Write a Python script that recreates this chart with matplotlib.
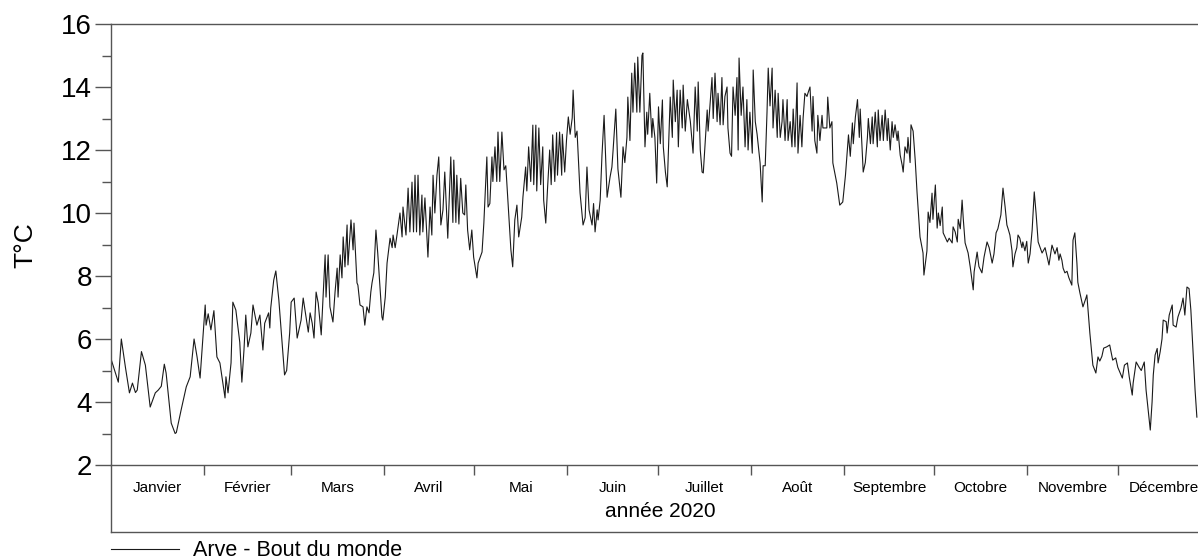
import numpy as np
import matplotlib
matplotlib.use("Agg")
import matplotlib.pyplot as plt

plt.rcParams["font.family"] = ["Liberation Sans", "DejaVu Sans"]

# Arve water temperature, 2020 (day of year, degC)
jan_feb_days = [0.3, 2.6, 3.6, 5.0, 6.3, 7.3, 8.3, 8.9, 10.3, 11.6, 13.2, 14.9, 15.9, 16.9, 17.9, 18.5,
                20.2, 21.5, 21.9, 23.5, 25.2, 26.5, 27.8, 28.8, 29.8, 31.5, 31.8, 32.5, 33.4, 34.4, 35.4,
                36.4, 37.4, 38.1, 38.4, 39.1, 40.1, 40.7, 41.7, 43.0, 43.7, 44.4, 45.0, 45.7, 46.7, 47.4,
                48.7, 49.7, 50.7, 51.3, 52.6, 53.0, 53.3, 54.3, 55.0, 56.0, 57.9, 58.6, 59.6]
jan_feb_temp = [5.33, 4.63, 6.0, 5.08, 4.29, 4.6, 4.3, 4.38, 5.6, 5.17, 3.84, 4.29, 4.38, 4.5, 5.2, 4.92,
                3.33, 3.0, 3.03, 3.75, 4.48, 4.8, 6.0, 5.43, 4.76, 7.08, 6.44, 6.8, 6.29, 6.9, 5.43,
                5.24, 4.6, 4.13, 4.8, 4.29, 5.24, 7.17, 6.92, 5.9, 4.63, 5.65, 6.76, 5.75, 6.19, 7.08,
                6.44, 6.76, 5.65, 6.5, 6.83, 6.35, 6.98, 7.87, 8.16, 7.24, 4.86, 5.0, 6.19]

mar_days = [60.1, 61.1, 62.1, 63.4, 64.1, 65.8, 66.4, 67.1, 67.7, 68.4, 69.1, 70.1, 71.4, 71.7, 72.4,
            73.0, 74.0, 74.7, 75.4, 75.7, 76.4, 77.0, 77.4, 78.0, 78.7, 79.0, 80.0, 80.7, 81.0, 82.0,
            82.3, 83.0, 84.0, 84.6, 85.3, 86.0, 86.6, 87.0, 87.6, 88.3, 88.9, 90.3, 90.6]
mar_temp = [7.17, 7.3, 6.03, 6.6, 7.3, 6.22, 6.83, 6.5, 6.03, 7.49, 7.14, 6.13, 8.67, 7.33, 8.67,
            7.02, 6.54, 7.49, 8.25, 7.33, 8.67, 7.94, 9.24, 8.29, 9.62, 8.35, 9.78, 8.83, 9.68, 7.78,
            7.71, 7.08, 7.02, 6.44, 7.02, 6.83, 7.49, 7.78, 8.1, 9.46, 8.73, 6.7, 6.6]

apr_days = [91.4, 92.0, 93.0, 93.7, 94.0, 94.7, 95.3, 96.3, 97.0, 97.3, 98.3, 99.0, 99.6, 100.3, 100.8,
            101.3, 101.8, 102.3, 102.9, 103.6, 103.9, 104.6, 105.6, 106.3, 106.9, 107.3, 107.9, 108.6,
            109.2, 109.9, 110.6, 111.2, 112.2, 113.2, 113.9, 114.2, 114.9, 115.2, 115.9, 116.5, 117.2,
            117.8, 118.2, 118.8, 119.5, 120.2, 120.8]
apr_temp = [7.33, 8.41, 9.2, 8.9, 9.3, 8.9, 9.3, 10.0, 9.24, 10.19, 9.3, 10.79, 9.4, 10.98, 9.4,
            11.2, 9.4, 11.2, 9.3, 10.57, 9.4, 10.48, 8.6, 10.19, 9.3, 11.2, 10.0, 11.2,
            11.78, 9.62, 10.1, 11.3, 9.2, 11.78, 9.7, 11.68, 9.7, 11.2, 9.65, 11.1, 10.0,
            9.94, 10.89, 9.46, 8.83, 9.46, 8.6]

may_days = [121.9, 122.3, 123.6, 124.2, 125.2, 125.6, 126.2, 126.9, 127.2, 127.9, 128.5, 128.9, 129.5,
            130.2, 130.9, 131.5, 132.2, 133.2, 133.8, 134.5, 135.2, 135.8, 136.8, 137.2, 138.1, 138.5,
            139.1, 139.8, 140.5, 140.8, 141.5, 141.8, 142.5, 143.1, 143.8, 144.1, 144.8, 145.4, 146.1,
            146.6, 147.1, 147.8, 148.4, 148.7, 149.4, 150.1, 150.3, 151.1, 151.7]
may_temp = [7.94, 8.41, 8.76, 9.68, 11.78, 10.19, 10.3, 11.78, 11.0, 12.1, 11.0, 12.57, 11.0,
            12.57, 11.37, 11.5, 10.41, 8.83, 8.29, 9.78, 10.25, 9.24, 9.87, 10.5, 11.46, 10.7,
            12.1, 11.0, 12.79, 10.9, 12.79, 10.7, 12.7, 10.9, 12.1, 10.41, 9.68, 10.8, 12.0,
            10.9, 12.48, 11.0, 12.55, 11.2, 12.57, 11.2, 12.5, 11.3, 12.32]

jun_days = [152.3, 152.9, 153.6, 153.9, 154.6, 155.2, 156.2, 157.2, 157.9, 158.5, 159.2, 160.2, 160.7,
            161.2, 161.9, 162.2, 162.9, 163.5, 164.2, 165.2, 166.2, 166.8, 167.2, 168.1, 168.8, 169.8,
            170.5, 171.1, 171.8, 172.1, 172.8, 173.4, 173.8, 174.4, 175.1, 175.4, 176.1, 176.8, 177.1,
            177.8, 178.4, 178.7, 179.4, 180.1, 180.4, 181.1, 181.7]
jun_temp = [13.05, 12.5, 13.02, 13.9, 12.4, 12.6, 10.64, 9.62, 9.85, 11.46, 10.1, 9.62, 10.3,
            9.4, 10.1, 9.78, 10.41, 11.84, 13.1, 10.5, 11.15, 11.46, 12.0, 13.3, 11.4, 10.5,
            12.1, 11.6, 12.4, 13.68, 12.3, 14.44, 13.2, 14.76, 13.2, 14.95, 13.2, 15.0, 15.08,
            12.1, 13.2, 12.5, 13.8, 12.4, 13.0, 12.4, 10.95]

jul_days = [182.3, 182.9, 183.6, 183.9, 184.6, 185.2, 186.2, 186.9, 187.2, 187.9, 188.5, 188.9, 189.5,
            190.2, 190.5, 191.2, 191.9, 192.9, 193.8, 194.5, 195.2, 195.5, 196.2, 196.8, 197.2, 198.5,
            198.8, 200.1, 200.5, 201.1, 201.8, 202.1, 202.8, 203.4, 203.8, 204.4, 205.1, 205.4, 206.1,
            206.6, 207.1, 207.8, 208.4, 208.8, 209.1, 209.8, 210.4, 211.1, 211.7, 212.1, 212.7]
jul_temp = [13.37, 12.2, 13.59, 12.1, 11.3, 10.83, 13.68, 12.4, 14.22, 12.9, 13.9, 12.1, 13.9,
            12.7, 14.06, 12.6, 13.6, 12.9, 11.9, 14.0, 12.6, 14.16, 12.0, 11.3, 11.27, 13.27,
            12.6, 14.3, 13.0, 14.44, 12.9, 13.8, 12.8, 14.3, 12.8, 13.7, 14.0, 12.7, 11.9,
            11.8, 14.0, 13.1, 14.3, 12.0, 14.92, 13.1, 14.0, 12.1, 13.6, 12.0, 13.2]

aug_days = [213.5, 213.8, 214.5, 215.1, 216.1, 216.8, 217.1, 217.8, 218.4, 218.8, 219.4, 220.1, 220.4,
            221.1, 221.8, 222.1, 222.8, 223.4, 223.7, 224.4, 225.1, 225.4, 226.1, 226.7, 227.1, 227.7,
            228.4, 228.7, 229.4, 230.0, 230.4, 231.0, 231.7, 232.0, 232.7, 233.4, 233.7, 234.3, 235.0,
            235.3, 236.0, 236.7, 237.0, 237.7, 238.3, 238.6, 239.3, 240.0, 240.3, 241.6, 242.6, 243.6]
aug_temp = [11.9, 14.54, 12.9, 12.5, 11.59, 10.35, 11.5, 11.5, 13.2, 14.6, 13.4, 14.6, 12.7,
            13.9, 12.4, 13.8, 12.4, 12.9, 13.6, 12.3, 13.6, 12.3, 12.9, 12.1, 13.3, 12.1,
            14.13, 11.9, 13.1, 12.1, 13.0, 13.8, 13.7, 13.8, 14.0, 12.6, 13.7, 12.3, 11.9,
            13.1, 12.3, 13.1, 12.7, 12.7, 12.7, 13.68, 12.7, 12.9, 11.59, 10.95, 10.25, 10.35]

sep_days = [244.5, 245.5, 246.1, 246.8, 247.1, 247.8, 248.5, 249.1, 249.4, 250.4, 251.1, 251.8, 252.1,
            252.8, 253.4, 253.7, 254.4, 255.1, 255.4, 256.0, 256.7, 257.1, 257.7, 258.4, 258.7, 259.4,
            260.0, 260.4, 261.0, 261.7, 262.0, 262.7, 263.4, 263.7, 264.3, 265.0, 265.3, 266.0, 266.3,
            267.0, 267.7, 268.3, 269.3, 270.3, 270.6, 271.6, 272.0, 272.6, 273.3, 273.6]
sep_temp = [11.2, 12.48, 11.8, 12.86, 12.2, 13.05, 13.6, 12.4, 13.3, 11.3, 11.6, 12.4, 13.0,
            12.2, 13.05, 12.2, 13.2, 12.1, 13.27, 12.3, 13.1, 12.3, 13.27, 12.3, 13.0, 12.0,
            12.9, 12.4, 12.8, 12.3, 12.6, 11.84, 11.5, 11.3, 12.1, 11.9, 12.4, 11.6, 12.8,
            12.6, 11.68, 10.67, 9.24, 8.73, 8.03, 8.8, 10.03, 9.7, 10.63, 9.8]

oct_days = [274.4, 275.0, 275.4, 276.0, 276.7, 277.0, 278.4, 279.0, 280.0, 280.3, 281.0, 281.7, 282.0,
            282.7, 283.3, 283.7, 284.3, 285.3, 286.0, 287.0, 287.3, 288.3, 288.9, 289.9, 290.6, 291.6,
            292.3, 293.3, 293.9, 294.6, 295.2, 296.2, 296.9, 297.6, 298.2, 298.6, 299.2, 299.9, 300.2,
            300.9, 301.5, 301.9, 302.5, 303.2, 303.5, 304.2, 304.8]
oct_temp = [10.89, 9.52, 10.0, 9.6, 10.19, 9.37, 9.08, 9.2, 9.05, 9.56, 9.4, 9.08, 9.8,
            9.5, 10.41, 9.8, 9.05, 8.73, 8.29, 7.56, 8.13, 8.76, 8.3, 8.1, 8.6, 9.08,
            8.9, 8.41, 8.7, 9.37, 9.5, 9.94, 10.79, 10.2, 9.62, 9.5, 9.3, 8.8, 8.29,
            8.7, 8.9, 9.3, 9.2, 8.9, 9.08, 8.8, 9.1]

nov_days = [305.3, 305.9, 306.6, 307.3, 307.9, 308.6, 309.9, 310.9, 311.6, 312.2, 313.2, 314.2, 314.9,
            315.5, 315.9, 316.5, 316.9, 317.5, 318.2, 318.8, 319.8, 320.2, 320.8, 321.5, 321.8, 322.5,
            323.5, 324.5, 324.8, 325.8, 326.8, 327.8, 328.5, 329.1, 329.8, 330.4, 331.4, 332.4, 333.4,
            334.4, 335.1]
nov_temp = [8.41, 8.7, 9.46, 10.67, 10.0, 9.08, 8.73, 8.9, 8.6, 8.35, 8.98, 8.7, 8.9,
            8.5, 8.7, 8.5, 8.25, 8.1, 8.15, 7.95, 7.71, 9.14, 9.37, 8.4, 7.8, 7.46,
            7.02, 7.3, 7.4, 6.19, 5.17, 4.92, 5.43, 5.3, 5.45, 5.71, 5.75, 5.81, 5.33,
            5.4, 5.1]

dec_days = [336.6, 337.3, 338.3, 338.9, 339.9, 340.2, 341.2, 342.2, 342.9, 343.9, 344.5, 345.2, 345.9,
            346.5, 346.9, 347.5, 348.2, 348.5, 349.2, 349.8, 350.2, 351.2, 351.5, 352.2, 353.2, 353.5,
            354.5, 355.1, 356.1, 356.8, 357.4, 358.1, 358.8, 359.4, 360.1, 360.8, 361.4]
dec_temp = [4.76, 5.17, 5.24, 4.8, 4.22, 4.6, 5.27, 5.1, 5.0, 5.27, 4.38, 3.75, 3.11,
            4.0, 4.86, 5.49, 5.7, 5.24, 5.6, 6.0, 6.6, 6.55, 6.19, 6.76, 7.08, 6.44,
            6.38, 6.7, 6.98, 7.3, 6.76, 7.65, 7.6, 6.92, 5.65, 4.38, 3.52]

months = ["Janvier", "Février", "Mars", "Avril", "Mai", "Juin", "Juillet", "Août",
          "Septembre", "Octobre", "Novembre", "Décembre"]
month_len = [31, 29, 31, 30, 31, 30, 31, 31, 30, 31, 30, 31]

days = np.concatenate([jan_feb_days, mar_days, apr_days, may_days, jun_days, jul_days,
                       aug_days, sep_days, oct_days, nov_days, dec_days])
temp = np.concatenate([jan_feb_temp, mar_temp, apr_temp, may_temp, jun_temp, jul_temp,
                       aug_temp, sep_temp, oct_temp, nov_temp, dec_temp])

month_start = np.concatenate([[0], np.cumsum(month_len)])
month_mid = (month_start[:-1] + month_start[1:]) / 2

W, H = 1198, 560
fig = plt.figure(figsize=(W / 100, H / 100), dpi=100)
gray = "#555555"

x0, x1 = 110.5, 1210.7

# month band under the plot (drawn first, transparent so the main spine stays visible)
band = fig.add_axes([x0 / W, 1 - 532 / H, (x1 - x0) / W, (532 - 465) / H])
band.patch.set_visible(False)
band.set_xlim(0, 366)
band.set_ylim(0, 1)
band.set_xticks([])
band.set_yticks([])
for side in ["top", "right"]:
    band.spines[side].set_visible(False)
for side in ["left", "bottom"]:
    band.spines[side].set_color(gray)
    band.spines[side].set_linewidth(1)
for m, name in zip(month_mid, months):
    band.text(m, 0.66, name, ha="center", va="center", fontsize=11)
band.text(183, 0.31, "année 2020", ha="center", va="center", fontsize=15)

ax = fig.add_axes([x0 / W, 1 - 465 / H, (x1 - x0) / W, (465 - 24) / H])
ax.patch.set_visible(False)
ax.plot(days, temp, color="#1a1a1a", lw=0.8, label="Arve - Bout du monde")
ax.set_xlim(0, 366)
ax.set_ylim(2, 16)
ax.set_yticks(np.arange(2, 17, 2))
ax.set_yticks(np.arange(3, 16, 2), minor=True)
ax.tick_params(axis="y", which="major", length=11.5, width=1, color=gray, labelsize=20, pad=2)
ax.tick_params(axis="y", which="minor", length=6.5, width=1, color=gray)
ax.set_xticks(month_start[1:-1])
ax.tick_params(axis="x", which="major", length=7.2, width=1, color=gray, labelbottom=False)
for side in ["left", "top", "bottom"]:
    ax.spines[side].set_color(gray)
    ax.spines[side].set_linewidth(1)
ax.spines["right"].set_visible(False)

fig.text(25 / W, 1 - 245 / H, "T°C", rotation=90, ha="center", va="center", fontsize=19)

fig.legend(loc="center left", bbox_to_anchor=(x0 / W, 1 - 551 / H), frameon=False,
           fontsize=15.5, handlelength=3.2, handletextpad=0.65, borderpad=0, borderaxespad=0)

fig.savefig("out.png", dpi=100)
